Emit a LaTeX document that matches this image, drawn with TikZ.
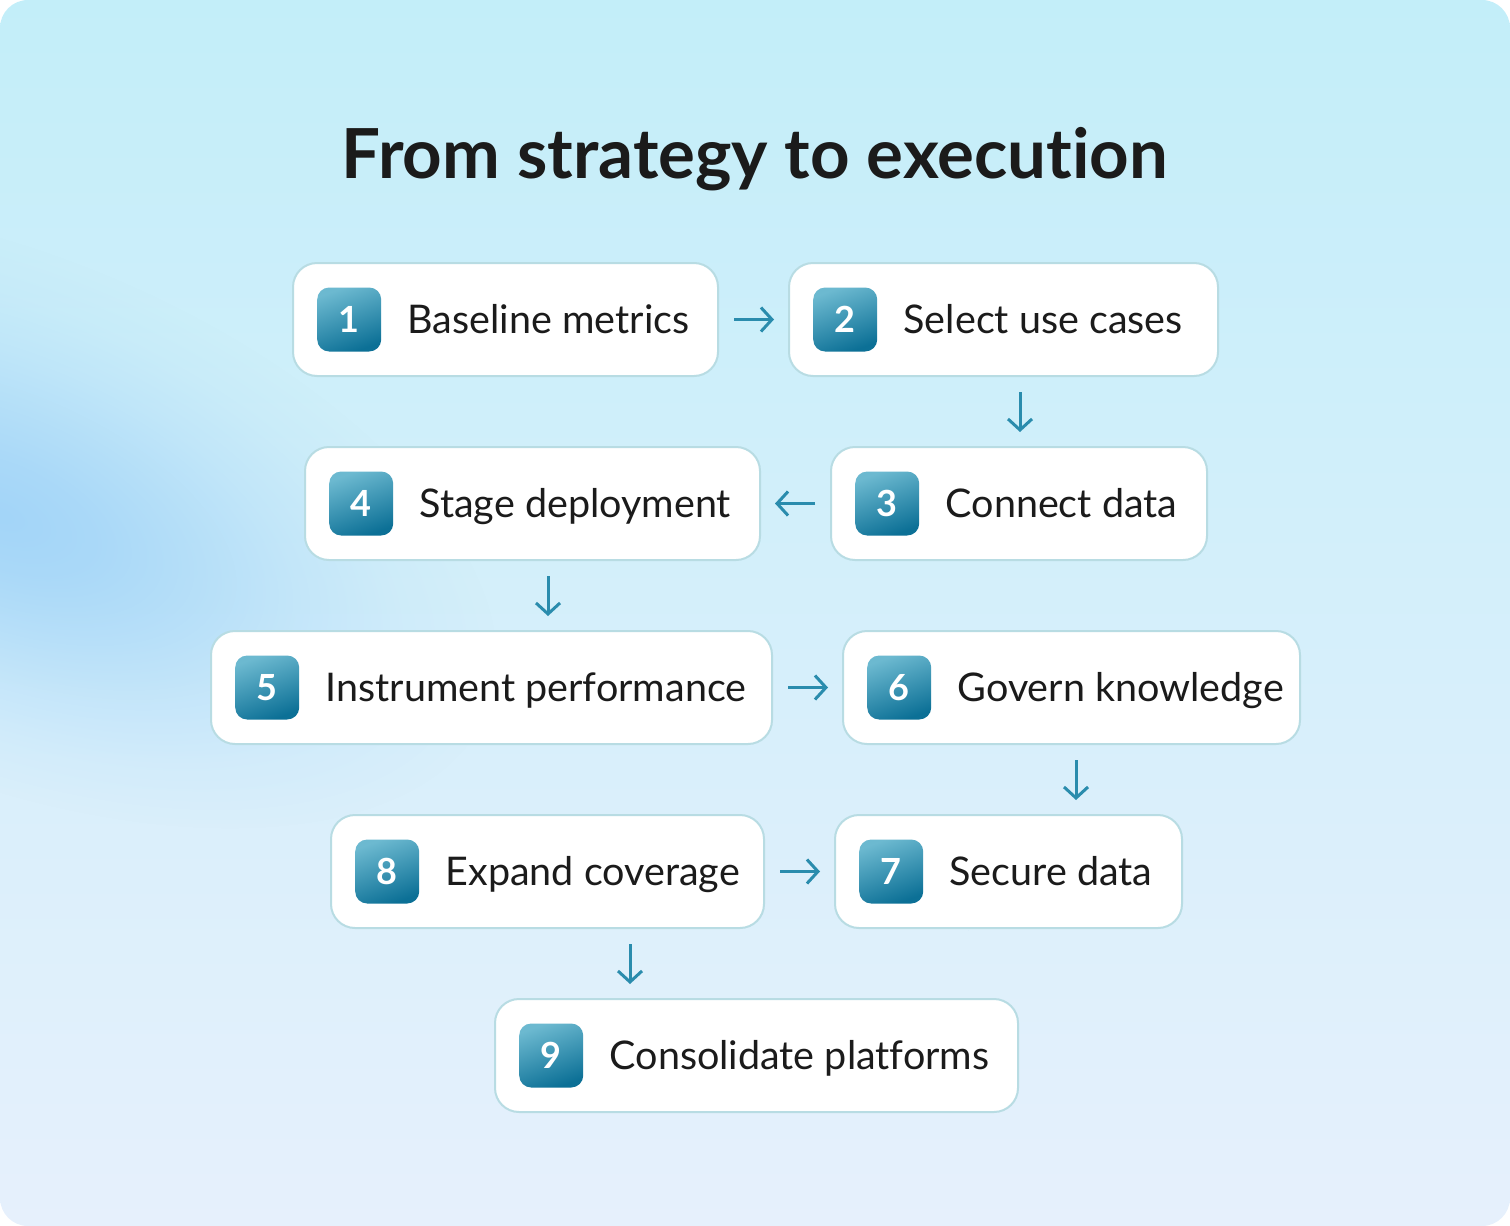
\documentclass[tikz,border=0pt]{standalone}
\usepackage{fontspec}
\setmainfont{Lato}[Ligatures=NoCommon]
\usetikzlibrary{positioning, arrows.meta, fadings}
\definecolor{bgtop}{HTML}{C3EEF9}
\definecolor{bgbot}{HTML}{E6F0FC}
\definecolor{blob}{HTML}{A3D5F8}
\definecolor{boxline}{HTML}{B8DCE3}
\definecolor{badgetop}{HTML}{6CB9D0}
\definecolor{badgebot}{HTML}{0C7096}
\definecolor{flowc}{HTML}{2A8CAD}
\definecolor{ink}{HTML}{1B1B1B}
\tikzset{>={Straight Barb[length=11pt,width=24pt]}}
\pgfdeclareradialshading{blobshading}{\pgfpointorigin}{color(0bp)=(white);
    color(5bp)=(white!85!black); color(10bp)=(white!60!black); color(15bp)=(white!33!black);
    color(20bp)=(white!12!black); color(25bp)=(black); color(50bp)=(black)}
\pgfdeclarefading{blobfade}{\pgfuseshading{blobshading}}

\begin{document}
\begin{tikzpicture}[x=1pt, y=-1pt,
    stepbox/.style={draw=boxline, line width=2pt, fill=white, rounded corners=24pt,
        minimum height=113pt, inner sep=0pt},
    badge/.style={rounded corners=12pt, minimum size=64pt, inner sep=0pt,
        top color=badgetop, bottom color=badgebot, shading angle=20,
        text=white, font=\fontsize{36}{36}\selectfont\bfseries},
    steptext/.style={inner sep=0pt, anchor=base west, text=ink,
        font=\fontsize{39.5}{47}\selectfont},
    title/.style={inner sep=0pt, anchor=base, text=ink,
        font=\fontsize{69}{76}\selectfont\bfseries},
    flow/.style={->, draw=flowc, line width=3pt, shorten <=15pt, shorten >=14pt}]
    \useasboundingbox (0,0) rectangle (1510,1226);
    % background
    \shade[top color=bgtop, bottom color=bgbot, rounded corners=28pt] (0,0) rectangle (1510,1226);
    \fill[blob, rounded corners=28pt, path fading=blobfade, fit fading=false,
        fading transform={shift={(0,515)}, rotate=-22, xscale=21, yscale=10.5}]
        (0,0) rectangle (1510,1226);
    \node[title] (title) at (755,178) {From strategy to execution};
    % steps
    \node[stepbox, minimum width=425pt] (b1) at (505.5,319.5) {};
    \node[badge, right=25pt of b1.west] (n1) {1};
    \node[steptext] (t1) at ([xshift=26pt, yshift=-14pt]n1.east) {Baseline metrics};
    \node[stepbox, minimum width=429pt] (b2) at (1003.5,319.5) {};
    \node[badge, right=25pt of b2.west] (n2) {2};
    \node[steptext] (t2) at ([xshift=26pt, yshift=-14pt]n2.east) {Select use cases};
    \node[stepbox, minimum width=376pt] (b3) at (1019,503.5) {};
    \node[badge, right=25pt of b3.west] (n3) {3};
    \node[steptext] (t3) at ([xshift=26pt, yshift=-14pt]n3.east) {Connect data};
    \node[stepbox, minimum width=455pt] (b4) at (532.5,503.5) {};
    \node[badge, right=25pt of b4.west] (n4) {4};
    \node[steptext] (t4) at ([xshift=26pt, yshift=-14pt]n4.east) {Stage deployment};
    \node[stepbox, minimum width=561pt] (b5) at (491.5,687.5) {};
    \node[badge, right=25pt of b5.west] (n5) {5};
    \node[steptext] (t5) at ([xshift=26pt, yshift=-14pt]n5.east) {Instrument performance};
    \node[stepbox, minimum width=457pt] (b6) at (1071.5,687.5) {};
    \node[badge, right=25pt of b6.west] (n6) {6};
    \node[steptext] (t6) at ([xshift=26pt, yshift=-14pt]n6.east) {Govern knowledge};
    \node[stepbox, minimum width=347pt] (b7) at (1008.5,871.5) {};
    \node[badge, right=25pt of b7.west] (n7) {7};
    \node[steptext] (t7) at ([xshift=26pt, yshift=-14pt]n7.east) {Secure data};
    \node[stepbox, minimum width=433pt] (b8) at (547.5,871.5) {};
    \node[badge, right=25pt of b8.west] (n8) {8};
    \node[steptext] (t8) at ([xshift=26pt, yshift=-14pt]n8.east) {Expand coverage};
    \node[stepbox, minimum width=523pt] (b9) at (756.5,1055.5) {};
    \node[badge, right=25pt of b9.west] (n9) {9};
    \node[steptext] (t9) at ([xshift=26pt, yshift=-14pt]n9.east) {Consolidate platforms};
    % connectors
    \draw[flow] (b1.east) -- (b2.west);
    \draw[flow] (b2.south -| 1020,0) -- (b3.north -| 1020,0);
    \draw[flow] (b3.west) -- (b4.east);
    \draw[flow] (b4.south -| 548,0) -- (b5.north -| 548,0);
    \draw[flow] (b5.east) -- (b6.west);
    \draw[flow] (b6.south -| 1076,0) -- (b7.north -| 1076,0);
    \draw[flow] (b8.east) -- (b7.west);
    \draw[flow] (b8.south -| 630,0) -- (b9.north -| 630,0);
\end{tikzpicture}
\end{document}
